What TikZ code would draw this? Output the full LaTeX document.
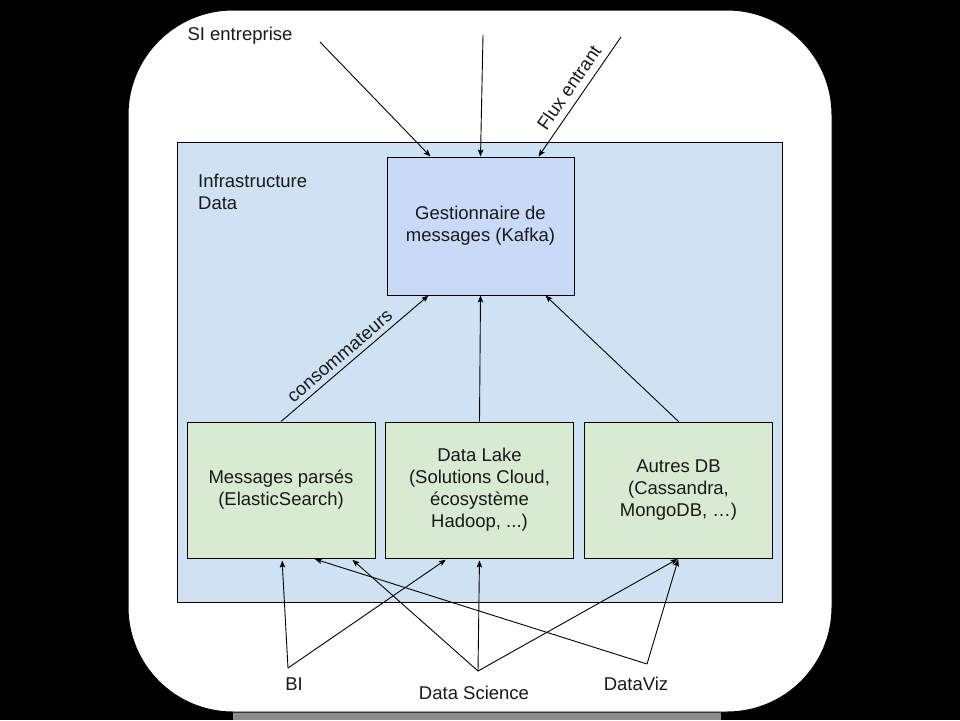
\documentclass[tikz,border=0pt]{standalone}
\usepackage{fontspec}
\setmainfont{Liberation Sans}
\usetikzlibrary{arrows.meta,calc}
\definecolor{infrabg}{HTML}{CFE2F3}
\definecolor{kafkabg}{HTML}{C9DAF8}
\definecolor{storebg}{HTML}{D9EAD3}
\begin{document}
\begin{tikzpicture}[x=1pt,y=-1pt,
  every node/.style={font=\fontsize{18.5}{22}\selectfont, text=black!90},
  box/.style={draw=black, line width=1pt, align=center, inner sep=0pt},
  store/.style={box, fill=storebg, minimum width=188pt, minimum height=136pt},
  conn/.style={-{Stealth[length=7pt,width=5.5pt,inset=1.5pt]}, line width=0.9pt},
  lbl/.style={inner sep=0pt}]
\useasboundingbox (0,0) rectangle (960,720);
\fill[black] (0,0) rectangle (960,720);
\fill[black!45] (233,712) rectangle (721,720);
\filldraw[fill=white, draw=black, line width=1pt, rounded corners=105pt] (128,10) rectangle (832,712);

\node[box, fill=infrabg, minimum width=605pt, minimum height=460pt] (infra) at (479.5,372) {};
\node[anchor=north west, align=left, lbl] (infralbl) at (198,174) {Infrastructure\\Data};
\node[box, fill=kafkabg, minimum width=187pt, minimum height=138pt] (kafka) at (480.5,226) {Gestionnaire de\\messages (Kafka)};
\node[store] (es) at (281,490) {Messages parsés\\(ElasticSearch)};
\node[store] (lake) at (479.5,490) {Data Lake\\(Solutions Cloud,\\écosystème\\Hadoop, ...)};
\node[store] (other) at (678.5,490) {Autres DB\\(Cassandra,\\MongoDB, …)};

% top sources
\node[lbl] (si) at (240,36) {SI entreprise};
\coordinate (siA) at (320,42);
\coordinate (topA) at (483,35);
\coordinate (fluxA) at (621,37);
\draw[conn] (siA) -- ([xshift=-50pt]kafka.north);
\draw[conn] (topA) -- (kafka.north);
\draw[conn] (fluxA) -- node[lbl, sloped, above=7pt, pos=0.49] {Flux entrant} ([xshift=58pt]kafka.north);

% consumers
\draw[conn] (es.north) -- node[lbl, pos=0.45, sloped, above=5pt] {consommateurs} ([xshift=-52pt]kafka.south);
\draw[conn] (lake.north) -- (kafka.south);
\draw[conn] (other.north) -- ([xshift=65pt]kafka.south);

% users
\node[lbl] (bi) at (294,684) {BI};
\node[lbl] (ds) at (474,693) {Data Science};
\node[lbl] (dv) at (636,684) {DataViz};
\coordinate (biA) at (288,668);
\coordinate (dsA) at (478,671);
\coordinate (dvA) at (647,664);
\draw[conn, shorten >=2pt] (biA) -- ([xshift=1pt]es.south);
\draw[conn, shorten >=2pt] (biA) -- ([xshift=-32pt]lake.south);
\draw[conn, shorten >=2pt] (dsA) -- ([xshift=70pt]es.south);
\draw[conn, shorten >=2pt] (dsA) -- (lake.south);
\draw[conn, shorten >=1pt] (dsA) -- (other.south);
\draw[conn, shorten >=2pt] (dvA) -- ([xshift=32pt]es.south);
\draw[conn, shorten >=1pt] (dvA) -- (other.south);
\end{tikzpicture}
\end{document}
